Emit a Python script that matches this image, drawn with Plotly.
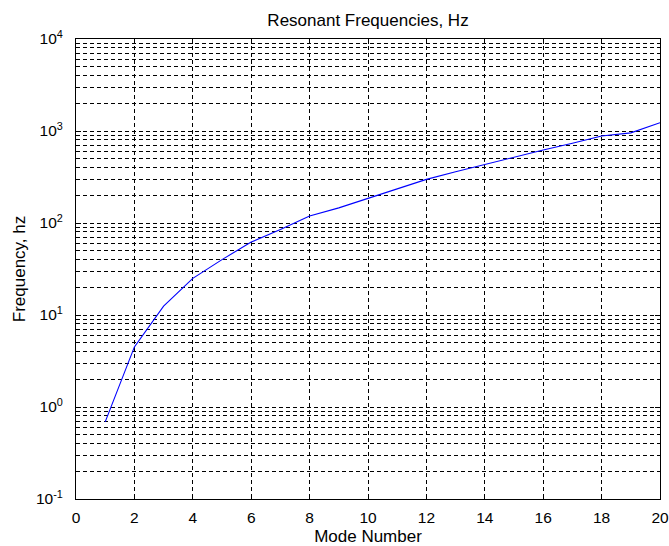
import plotly.graph_objects as go

mode_number = list(range(1, 21))
frequency_hz = [0.69, 4.5, 12.5, 25, 40, 62, 85, 119, 146, 185,
                238, 298, 361, 435, 518, 621, 735, 883, 955, 1231]

x_ticks = list(range(0, 21, 2))
y_tickvals = [0.1, 1, 10, 100, 1000, 10000]
y_ticktext = ["10<sup>-1</sup>", "10<sup>0</sup>", "10<sup>1</sup>",
              "10<sup>2</sup>", "10<sup>3</sup>", "10<sup>4</sup>"]
y_minor = [m * 10 ** k for k in range(-1, 4) for m in range(2, 10)]

FONT = "Liberation Sans, Arial, sans-serif"
DASH = "4px,3px"

fig = go.Figure()
fig.add_trace(go.Scatter(x=mode_number, y=frequency_hz, mode="lines",
                         line=dict(color="#0000ff", width=1.1),
                         showlegend=False, hoverinfo="skip"))

fig.update_layout(
    width=669, height=546,
    margin=dict(l=76, r=9, t=39, b=47, autoexpand=False),
    paper_bgcolor="white", plot_bgcolor="white",
    font=dict(family=FONT, size=15.5, color="black"),
    title=dict(text="Resonant Frequencies, Hz", x=0.5, xref="paper",
               y=1 - 20 / 546, yref="container", yanchor="middle",
               xanchor="center", font=dict(size=17, family=FONT, color="black")),
)

fig.update_xaxes(
    range=[0, 20], tickvals=x_ticks, ticks="inside", ticklen=5,
    tickcolor="black", showline=True, linecolor="black", linewidth=1,
    mirror="ticks", showgrid=True, gridcolor="black", gridwidth=1,
    griddash=DASH, zeroline=False, automargin=False,
    title=dict(text="Mode Number", font=dict(size=17), standoff=8),
    ticklabelstandoff=4,
)
fig.update_yaxes(
    type="log", range=[-1, 4], tickvals=y_tickvals, ticktext=y_ticktext,
    ticks="inside", ticklen=5, tickcolor="black", showline=True,
    linecolor="black", linewidth=1, mirror="ticks", showgrid=True,
    gridcolor="black", gridwidth=1, griddash=DASH, zeroline=False,
    automargin=False,
    minor=dict(tickvals=y_minor, ticks="inside", ticklen=3, tickcolor="black",
               showgrid=True, gridcolor="black", gridwidth=1, griddash=DASH),
    title=dict(text="Frequency, hz", font=dict(size=17), standoff=6),
    ticklabelstandoff=9,
)

fig.write_html("out.html")
